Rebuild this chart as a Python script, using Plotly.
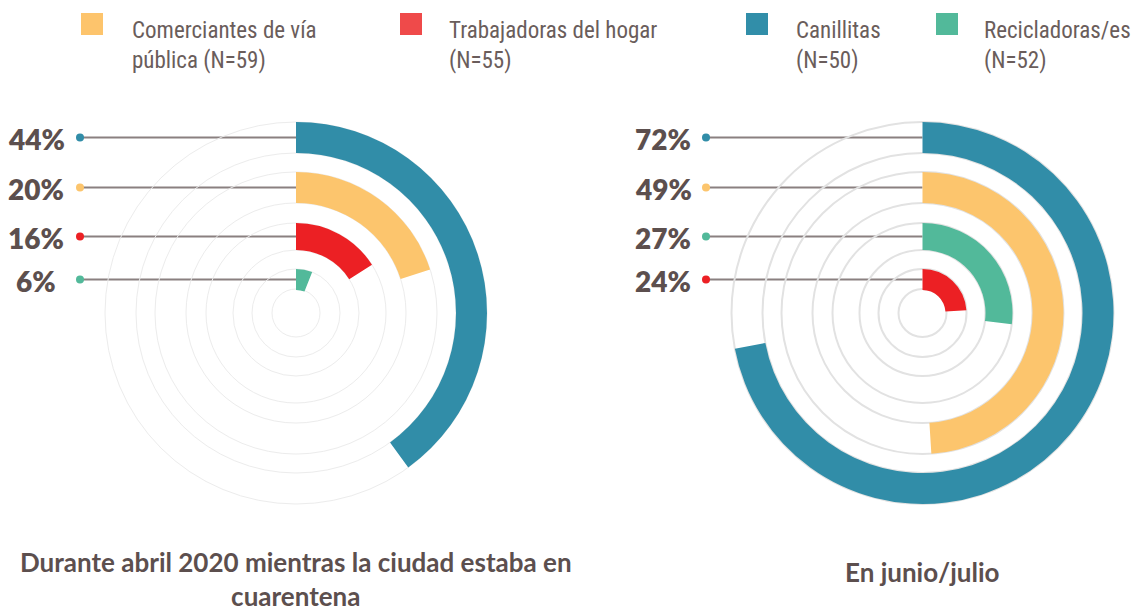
import plotly.graph_objects as go

WIN_W, WIN_H = 1139, 611
OFF = 8                         # default page margin of the html body
W, H = WIN_W - OFF, WIN_H - OFF  # figure size so the page does not overflow

# ---------------- data ----------------
series = ["Comerciantes de vía pública", "Trabajadoras del hogar", "Canillitas", "Recicladoras/es"]
legend_line1 = ["Comerciantes de vía", "Trabajadoras del hogar", "Canillitas", "Recicladoras/es"]
legend_line2 = ["pública (N=59)", "(N=55)", "(N=50)", "(N=52)"]
abril_pct = [20, 16, 44, 6]          # printed labels, April 2020
abril_arco = [20, 16, 40, 6]         # arc length as drawn in the picture
junio_pct = [49, 24, 72, 27]         # printed labels, June/July
junio_arco = [49, 24, 72, 27]
titulo_abril = "Durante abril 2020 mientras la ciudad estaba en<br>cuarentena"
titulo_junio = "En junio/julio"

# ---------------- styles ----------------
bar_colors = ["#fcc56d", "#ec2024", "#318da8", "#52b99a"]
legend_colors = ["#fdc46c", "#ef4a4a", "#318ea9", "#52b99a"]
text_color = "#5c4f4e"
legend_text_color = "#6a5d5b"
lead_color = "#8a8080"
bands = [(23, 44), (63, 90), (110, 141), (160, 191)]   # inner -> outer ring
grid_r = [24, 44, 63, 90, 110, 141, 160, 191]
RMAX = 197

# all positions below are in window pixels (top-left origin)
panels = [
    dict(cx=296, cy=313, pct=abril_pct, arc=abril_arco, sub="polar", dot_x=80, lab_x=36,
         title=titulo_abril, title_y=579, grid="#ececec", gw=1),
    dict(cx=922.5, cy=313, pct=junio_pct, arc=junio_arco, sub="polar2", dot_x=706, lab_x=663,
         title=titulo_junio, title_y=572, grid="#e2e2e2", gw=1.5),
]

fig = go.Figure()
annotations = []

for p in panels:
    order = sorted(range(len(series)), key=lambda i: -p["pct"][i])
    for rank, i in enumerate(order):
        b0, b1 = bands[len(bands) - 1 - rank]
        fig.add_trace(go.Barpolar(
            r=[b1 - b0], base=[b0], theta=[p["arc"][i] * 1.8], width=[p["arc"][i] * 3.6],
            marker=dict(color=bar_colors[i], line=dict(width=0)),
            subplot=p["sub"], showlegend=False, hoverinfo="skip"))
        y = p["cy"] - (b0 + b1) / 2
        fig.add_trace(go.Scatter(
            x=[p["dot_x"], p["cx"]], y=[y, y], mode="lines",
            line=dict(color=lead_color, width=1.8), xaxis="x", yaxis="y",
            showlegend=False, hoverinfo="skip"))
        fig.add_trace(go.Scatter(
            x=[p["dot_x"]], y=[y], mode="markers",
            marker=dict(color=bar_colors[i], size=8), xaxis="x", yaxis="y",
            showlegend=False, hoverinfo="skip"))
        annotations.append(dict(
            x=p["lab_x"], y=y + 1.5, xref="x", yref="y", text=f"{p['pct'][i]}%",
            showarrow=False, xanchor="center", yanchor="middle",
            font=dict(family="Lato", size=28, color=text_color, weight=800)))
    annotations.append(dict(
        x=p["cx"], y=p["title_y"], xref="x", yref="y", text=p["title"],
        showarrow=False, xanchor="center", yanchor="middle",
        font=dict(family="Lato", size=26, color=text_color, weight=700)))

# legend (custom)
leg_sq_x = [92, 411, 757, 947]
leg_tx_x = [130, 447, 794, 982]
fig.add_trace(go.Scatter(
    x=leg_sq_x, y=[24] * 4, mode="markers",
    marker=dict(symbol="square", size=22, color=legend_colors),
    xaxis="x", yaxis="y", showlegend=False, hoverinfo="skip"))
for i in range(len(series)):
    for ly, txt in ((30, legend_line1[i]), (60, legend_line2[i])):
        annotations.append(dict(
            x=leg_tx_x[i], y=ly, xref="x", yref="y", text=txt, showarrow=False,
            xanchor="left", yanchor="middle",
            font=dict(family="Roboto Condensed, Liberation Sans Narrow, Roboto", size=23,
                      color=legend_text_color)))

polar_common = dict(
    bgcolor="rgba(0,0,0,0)",
    radialaxis=dict(range=[0, RMAX], showline=False, showticklabels=False, ticks="",
                    tickvals=grid_r),
    angularaxis=dict(rotation=90, direction="clockwise", showline=False, showgrid=False,
                     showticklabels=False, ticks=""),
    hole=0,
)

layout_polars = {}
for p in panels:
    pc = {k: (dict(v) if isinstance(v, dict) else v) for k, v in polar_common.items()}
    pc["radialaxis"]["gridcolor"] = p["grid"]
    pc["radialaxis"]["gridwidth"] = p["gw"]
    cx, cy = p["cx"] - OFF, p["cy"] - OFF
    pc["domain"] = dict(
        x=[(cx - RMAX) / W, (cx + RMAX) / W],
        y=[1 - (cy + RMAX) / H, 1 - (cy - RMAX) / H])
    layout_polars[p["sub"]] = pc

fig.update_layout(
    width=W, height=H, margin=dict(l=0, r=0, t=0, b=0),
    paper_bgcolor="white", plot_bgcolor="rgba(0,0,0,0)",
    xaxis=dict(range=[OFF, OFF + W], domain=[0, 1], visible=False, fixedrange=True),
    yaxis=dict(range=[OFF + H, OFF], domain=[0, 1], visible=False, fixedrange=True),
    annotations=annotations,
    barmode="overlay",
    **layout_polars,
)

fig.write_html("out.html", config={"displayModeBar": False})
